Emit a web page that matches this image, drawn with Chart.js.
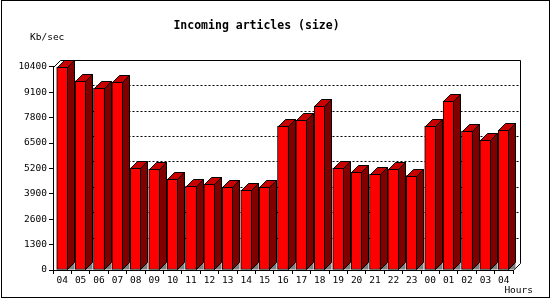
<!DOCTYPE html>
<html>
<head>
<meta charset="utf-8">
<script src="https://cdn.jsdelivr.net/npm/chart.js@4/dist/chart.umd.min.js"></script>
<style>
    html, body { margin: 0; padding: 0; background: #fff; }
    #wrap { width: 550px; height: 300px; position: relative; }
</style>
</head>
<body>
<div id="wrap"><canvas id="chart" width="550" height="300"></canvas></div>
<script>
// hour labels along the x axis
var hours = ['04', '05', '06', '07', '08', '09', '10', '11', '12', '13', '14', '15',
             '16', '17', '18', '19', '20', '21', '22', '23', '00', '01', '02', '03', '04'];

// incoming article size, Kb/sec
var sizes = [10400, 9680, 9310, 9620, 5210, 5160, 4650, 4290, 4390, 4240, 4080, 4240,
             7360, 7670, 8390, 5210, 5000, 4900, 5160, 4830, 7360, 8640, 7110, 6650, 7160];

// y axis ticks
var yMin = 0;
var yMax = 10400;
var yStep = 1300;

var chartTitle = 'Incoming articles (size)';
var yUnit = 'Kb/sec';
var xUnit = 'Hours';

(function() {
    'use strict';

    var DEPTH = 7;
    var FONT = '"DejaVu Sans Mono", "Liberation Mono", monospace';

    // white background + outer frame + unit labels
    var framePlugin = {
        id: 'frame',
        beforeDraw: function(chart) {
            var ctx = chart.ctx;
            ctx.save();
            ctx.fillStyle = '#ffffff';
            ctx.fillRect(0, 0, chart.width, chart.height);
            ctx.strokeStyle = '#000000';
            ctx.lineWidth = 1;
            ctx.strokeRect(1.5, 0.5, 548, 297);
            ctx.restore();
        },
        afterDraw: function(chart) {
            var ctx = chart.ctx;
            var area = chart.chartArea;
            ctx.save();
            ctx.fillStyle = '#000000';
            ctx.font = '9.5px ' + FONT;
            ctx.textBaseline = 'middle';
            ctx.textAlign = 'left';
            ctx.fillText(yUnit, 30, 38);
            ctx.textAlign = 'right';
            ctx.fillText(xUnit, area.right + 20, 291);
            ctx.restore();
        }
    };

    // back wall with dotted grid, drawn behind the bars
    var wallPlugin = {
        id: 'wall',
        beforeDatasetsDraw: function(chart) {
            var ctx = chart.ctx;
            var area = chart.chartArea;
            var y = chart.scales.y;
            var left = Math.round(area.left) + 0.5;
            var right = Math.round(area.right) + 0.5;
            var top = Math.round(area.top) + 0.5;
            var bottom = Math.round(area.bottom) + 0.5;

            ctx.save();
            ctx.strokeStyle = '#000000';
            ctx.lineWidth = 1;

            // dotted lines on the back wall
            ctx.setLineDash([2, 2]);
            y.ticks.forEach(function(t) {
                if (t.value <= yMin || t.value >= yMax) return;
                var py = Math.round(y.getPixelForValue(t.value)) - DEPTH + 0.5;
                ctx.beginPath();
                ctx.moveTo(left + DEPTH, py);
                ctx.lineTo(right + DEPTH, py);
                ctx.stroke();
            });
            ctx.setLineDash([]);

            // wall outline: top edge, right edge and the two depth diagonals
            ctx.beginPath();
            ctx.moveTo(left, top);
            ctx.lineTo(left + DEPTH, top - DEPTH);
            ctx.lineTo(right + DEPTH, top - DEPTH);
            ctx.lineTo(right + DEPTH, bottom - DEPTH);
            ctx.lineTo(right, bottom);
            ctx.stroke();
            ctx.restore();
        },
        // side and top faces of every bar
        afterDatasetsDraw: function(chart) {
            var ctx = chart.ctx;
            var meta = chart.getDatasetMeta(0);
            ctx.save();
            ctx.strokeStyle = '#000000';
            ctx.lineWidth = 1;
            ctx.lineJoin = 'miter';
            meta.data.forEach(function(bar) {
                var p = bar.getProps(['x', 'y', 'base', 'width'], true);
                var xl = Math.round(p.x - p.width / 2) + 0.5;
                var xr = Math.round(p.x + p.width / 2) - 0.5;
                var yt = Math.round(p.y) + 0.5;
                var yb = Math.round(p.base) - 0.5;

                // floor showing under the side
                ctx.fillStyle = '#808080';
                ctx.beginPath();
                ctx.moveTo(xr, yb);
                ctx.lineTo(xr + DEPTH, yb - DEPTH);
                ctx.lineTo(xr + DEPTH, yb);
                ctx.closePath();
                ctx.fill();

                // side
                ctx.fillStyle = '#800000';
                ctx.beginPath();
                ctx.moveTo(xr, yt);
                ctx.lineTo(xr + DEPTH, yt - DEPTH);
                ctx.lineTo(xr + DEPTH, yb - DEPTH);
                ctx.lineTo(xr, yb);
                ctx.closePath();
                ctx.fill();
                ctx.stroke();

                // top
                ctx.fillStyle = '#c80000';
                ctx.beginPath();
                ctx.moveTo(xl, yt);
                ctx.lineTo(xl + DEPTH, yt - DEPTH);
                ctx.lineTo(xr + DEPTH, yt - DEPTH);
                ctx.lineTo(xr, yt);
                ctx.closePath();
                ctx.fill();
                ctx.stroke();
            });
            ctx.restore();
        }
    };

    var ctx = document.getElementById('chart').getContext('2d');

    new Chart(ctx, {
        type: 'bar',
        data: {
            labels: hours,
            datasets: [{
                label: yUnit,
                data: sizes,
                backgroundColor: '#ff0000',
                borderColor: '#000000',
                borderWidth: 1,
                borderSkipped: false,
                barThickness: 11
            }]
        },
        options: {
            responsive: false,
            animation: false,
            events: [],
            layout: {
                padding: { top: 0, left: 0, right: 37, bottom: 0 }
            },
            scales: {
                x: {
                    offset: true,
                    afterFit: function(scale) { scale.height = 30; },
                    grid: {
                        display: true,
                        offset: true,
                        drawOnChartArea: false,
                        drawTicks: true,
                        tickLength: 4,
                        color: '#000000'
                    },
                    border: { display: true, color: '#000000', width: 1 },
                    ticks: {
                        color: '#000000',
                        padding: 1,
                        maxRotation: 0,
                        autoSkip: false,
                        font: { family: FONT, size: 9.5 }
                    }
                },
                y: {
                    min: yMin,
                    max: yMax,
                    afterFit: function(scale) { scale.width = 53; },
                    grid: {
                        display: true,
                        drawOnChartArea: false,
                        drawTicks: true,
                        tickLength: 4,
                        color: '#000000'
                    },
                    border: { display: true, color: '#000000', width: 1 },
                    ticks: {
                        stepSize: yStep,
                        color: '#000000',
                        padding: 2,
                        font: { family: FONT, size: 9.5 },
                        callback: function(value) { return String(value); }
                    }
                }
            },
            plugins: {
                legend: { display: false },
                tooltip: { enabled: false },
                title: {
                    display: true,
                    text: chartTitle,
                    color: '#000000',
                    font: { family: FONT, size: 11.5, weight: 'bold', lineHeight: 1.2 },
                    padding: { top: 19, bottom: 34 }
                }
            }
        },
        plugins: [framePlugin, wallPlugin]
    });
})();
</script>
</body>
</html>
